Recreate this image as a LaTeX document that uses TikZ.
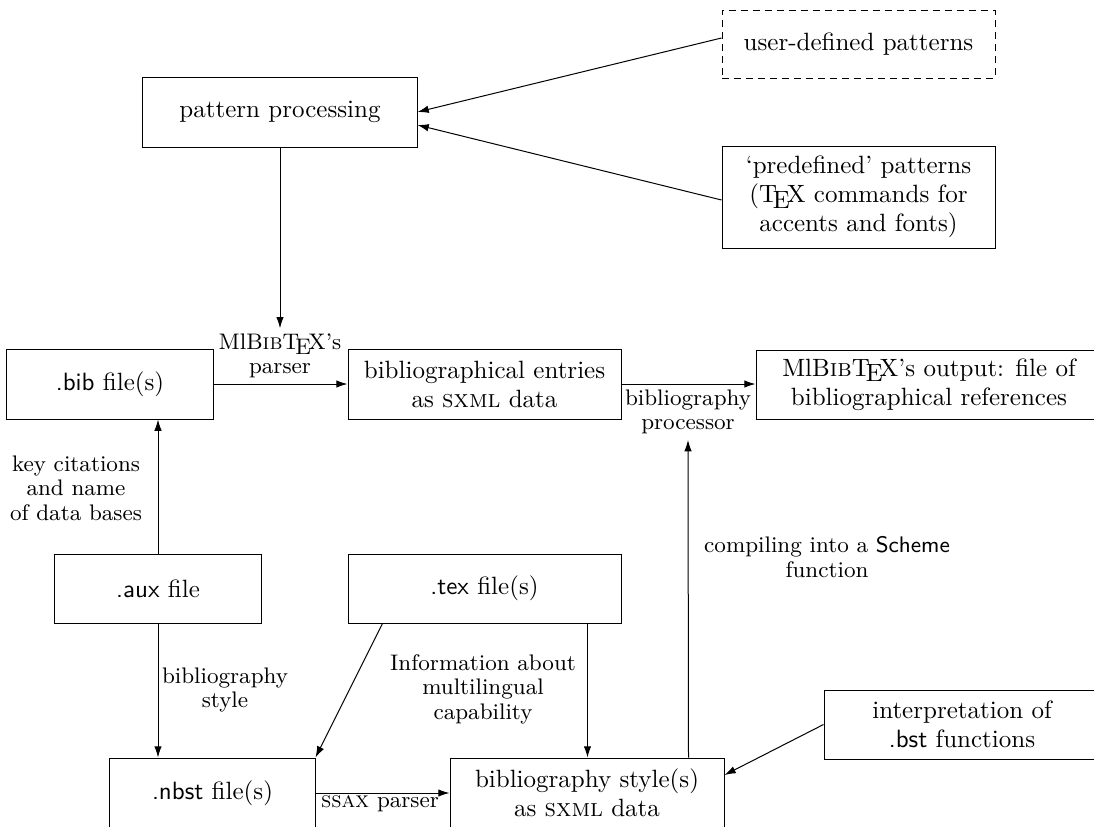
\documentclass[tikz,border=0pt]{standalone}
\usetikzlibrary{arrows.meta}
\begin{document}
\begin{tikzpicture}[x=0.4pt,y=-0.4pt,
  box/.style={draw,line width=0.4pt,align=center,inner sep=0pt,
    minimum width=109.2pt,minimum height=28pt,font=\fontsize{10}{11.6}\selectfont},
  narrowbox/.style={box,minimum width=82.4pt},
  lab/.style={align=center,inner sep=2pt,font=\fontsize{9}{9.8}\selectfont},
  arr/.style={line width=0.4pt,-{Latex[length=4.5pt,width=3pt]}}]
\useasboundingbox (0,0) rectangle (1094,827);
\clip (0,0) rectangle (1094,827);
% boxes
\node[box,minimum width=109.6pt] (pp) at (280,112) {pattern processing};
\node[box,dash pattern=on 2.8pt off 2pt,minimum height=27.2pt] (ud) at (858.5,44) {user-defined patterns};
\node[box,minimum height=40.8pt] (pd) at (858.5,197) {`predefined' patterns\\(\TeX\ commands for\\accents and fonts)};
\node[narrowbox] (bib) at (110,384) {\textsf{.bib} file(s)};
\node[box] (ent) at (484.5,384) {bibliographical entries\\as \textsc{sxml} data};
\node[box,minimum width=138.4pt,minimum height=27.6pt] (out) at (929,384.5) {MlB\textsc{ib}\TeX's output: file of\\bibliographical references};
\node[narrowbox,minimum height=27.6pt] (aux) at (158,588.5) {\textsf{.aux} file};
\node[box,minimum height=27.6pt] (tex) at (484.5,588.5) {\textsf{.tex} file(s)};
\node[narrowbox,minimum width=82pt] (nbst) at (212.5,793) {\textsf{.nbst} file(s)};
\node[box,minimum width=109.6pt] (style) at (587,793) {bibliography style(s)\\as \textsc{sxml} data};
\node[box,minimum width=110.4pt,minimum height=27.6pt] (interp) at (962,724.5) {interpretation of\\\textsf{.bst} functions};
% labels
\node[lab] (lparser) at (280,356) {MlB\textsc{ib}\TeX's\\parser};
\node[lab] (lproc) at (688,412) {bibliography\\processor};
\node[lab] (lkey) at (76,488) {key citations\\and name\\of data bases};
\node[lab] (lstyle) at (225,690) {bibliography\\style};
\node[lab] (linfo) at (483,689) {Information about\\multilingual\\capability};
\node[lab] (lcomp) at (827,557) {compiling into a \textsf{Scheme}\\function};
\node[lab] (lssax) at (380,804) {\textsc{ssax} parser};
\coordinate (ptip) at (688,440);
% connectors
\draw[arr] ([yshift=2.4pt]ud.west) -- (pp.east);
\draw[arr] ([yshift=-1.2pt]pd.west) -- ([yshift=-5.2pt]pp.east);
\draw[arr] (pp.south) -- (pp.south |- lparser.north);
\draw[arr] (bib.east) -- (ent.west);
\draw[arr] (ent.east) -- (ent.east -| out.west);
\draw[arr] (aux.north) -- (aux.north |- bib.south);
\draw[arr] (aux.south) -- (aux.south |- nbst.north);
\draw[arr] ([xshift=14pt]tex.south west) -- (nbst.north east);
\draw[arr] ([xshift=-13.6pt]tex.south east) -- ([xshift=-13.6pt]tex.south east |- style.north);
\draw[arr] (nbst.east) -- (nbst.east -| style.west);
\draw[arr] ([xshift=-14.4pt]style.north east) -- (ptip);
\draw[arr] (interp.west) -- ([yshift=7.2pt]style.east);
\end{tikzpicture}
\end{document}
